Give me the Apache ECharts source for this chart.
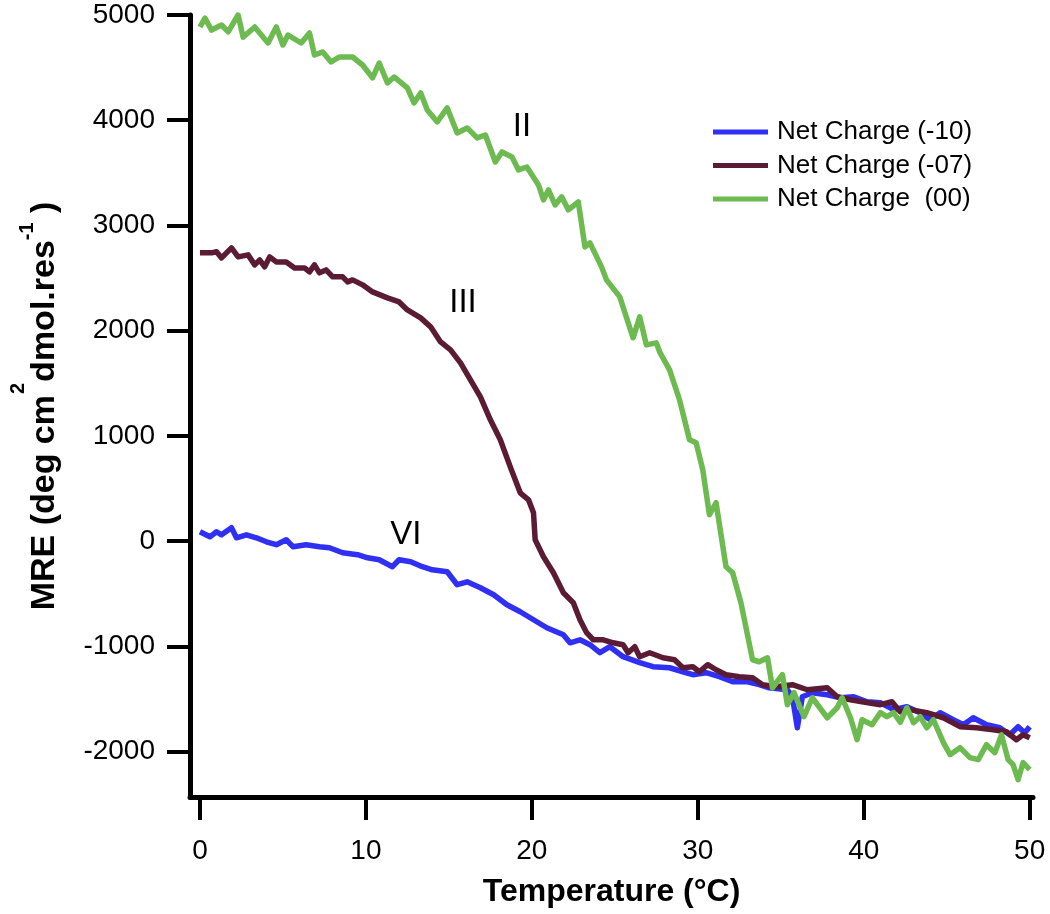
<!DOCTYPE html>
<html>
<head>
<meta charset="utf-8">
<script src="https://cdn.jsdelivr.net/npm/echarts@6/dist/echarts.min.js"></script>
<style>
html,body{margin:0;padding:0;background:#fff;}
#chart{width:1050px;height:914px;}
</style>
</head>
<body>
<div id="chart"></div>
<script>
// ---- Data ----
const seriesNames = ['Net Charge (-10)', 'Net Charge (-07)', 'Net Charge  (00)'];

const xTicks = [0, 10, 20, 30, 40, 50];
const yTicks = [-2000, -1000, 0, 1000, 2000, 3000, 4000, 5000];

// Net Charge (-10) — blue
const blueT = [0, 0.6, 1.0, 1.3, 1.9, 2.2, 2.8, 3.4, 4.0, 4.6,
  5.2, 5.6, 6.4, 7.2, 7.8, 8.6, 9.5, 10.1, 10.8, 11.6,
  12.0, 12.7, 13.4, 14.0, 14.9, 15.5, 16.1, 16.9, 17.7, 18.5,
  19.3, 20.1, 20.9, 21.9, 22.3, 22.9, 23.5, 24.1, 24.7, 25.5,
  26.5, 27.3, 28.3, 29.1, 29.7, 30.5, 31.3, 32.1, 33.0, 33.7,
  34.3, 35.4, 35.7, 36.0, 36.3, 36.9, 37.8, 38.6, 39.4, 40.2,
  41.0, 41.8, 42.6, 43.4, 44.0, 44.6, 45.4, 46.0, 46.6, 47.4,
  48.2, 48.8, 49.3, 49.7, 50.0];
const blueV = [90, 42, 90, 61, 128, 33, 61, 33, -5, -33,
  14, -52, -33, -52, -62, -109, -128, -157, -176, -242,
  -176, -195, -242, -271, -290, -413, -385, -442, -508, -603,
  -670, -746, -822, -888, -965, -936, -983, -1059, -1002, -1097,
  -1154, -1192, -1202, -1240, -1268, -1249, -1287, -1335, -1335, -1363,
  -1392, -1411, -1477, -1772, -1477, -1439, -1458, -1487, -1477, -1525,
  -1534, -1600, -1572, -1629, -1696, -1629, -1696, -1743, -1677, -1743,
  -1772, -1838, -1762, -1819, -1762];

// Net Charge (-07) — maroon
const maroonT = [0, 0.7, 1.0, 1.3, 1.9, 2.3, 2.9, 3.3, 3.6, 3.9,
  4.2, 4.6, 5.2, 5.7, 6.3, 6.6, 6.9, 7.2, 7.6, 8.0,
  8.6, 8.9, 9.2, 9.8, 10.4, 11.3, 12.0, 12.5, 13.3, 13.9,
  14.5, 15.1, 15.7, 16.3, 16.9, 17.5, 18.1, 18.7, 19.3, 19.8,
  20.1, 20.2, 20.7, 21.3, 21.9, 22.5, 22.9, 23.3, 23.7, 24.3,
  24.9, 25.5, 25.8, 26.2, 26.5, 27.1, 27.9, 28.6, 29.1, 29.7,
  30.1, 30.6, 31.1, 31.7, 32.5, 33.3, 33.9, 34.7, 35.7, 36.6,
  37.8, 38.4, 39.2, 39.9, 41.0, 41.7, 42.2, 42.8, 43.8, 44.8,
  45.8, 46.8, 47.8, 48.6, 49.2, 49.6, 50.0];
const maroonV = [2740, 2740, 2750, 2692, 2787, 2702, 2721, 2626, 2673, 2607,
  2702, 2654, 2654, 2597, 2597, 2559, 2626, 2550, 2578, 2512,
  2512, 2464, 2483, 2436, 2369, 2312, 2274, 2198, 2122, 2037,
  1894, 1818, 1695, 1534, 1372, 1154, 964, 707, 460, 394,
  270, 14, -147, -299, -489, -584, -746, -869, -936, -936,
  -965, -983, -1059, -1002, -1097, -1059, -1107, -1126, -1202, -1192,
  -1240, -1173, -1221, -1268, -1287, -1297, -1363, -1382, -1363, -1411,
  -1392, -1477, -1506, -1525, -1553, -1525, -1620, -1600, -1629, -1677,
  -1762, -1772, -1791, -1810, -1886, -1838, -1867];

// Net Charge (00) — green
const greenT = [0.0, 0.3, 0.7, 1.3, 1.7, 2.3, 2.6, 3.3, 4.1, 4.6,
  5.0, 5.3, 6.1, 6.6, 6.9, 7.4, 7.9, 8.4, 9.2, 9.8,
  10.4, 10.8, 11.3, 11.7, 12.5, 12.9, 13.3, 13.7, 14.3, 14.9,
  15.5, 16.1, 16.7, 17.2, 17.8, 18.2, 18.8, 19.2, 19.7, 20.4,
  20.7, 21.0, 21.4, 21.8, 22.2, 22.8, 23.2, 23.5, 24.2, 24.5,
  25.3, 26.1, 26.5, 26.9, 27.5, 27.7, 28.3, 28.9, 29.5, 29.9,
  30.3, 30.7, 31.1, 31.7, 32.1, 32.6, 33.3, 33.7, 34.2, 34.5,
  35.1, 35.4, 35.8, 36.4, 36.9, 37.8, 38.4, 38.7, 39.2, 39.6,
  39.9, 40.5, 41.0, 41.4, 41.8, 42.2, 42.6, 43.0, 43.4, 43.8,
  44.2, 44.8, 45.2, 45.8, 46.4, 46.9, 47.4, 47.9, 48.3, 48.7,
  49.0, 49.3, 49.6, 50.0];
const greenV = [4886, 4970, 4857, 4905, 4840, 5000, 4790, 4886, 4734, 4886,
  4715, 4810, 4734, 4829, 4620, 4649, 4554, 4601, 4601, 4525,
  4402, 4544, 4354, 4411, 4307, 4164, 4259, 4098, 3984, 4117,
  3879, 3927, 3832, 3860, 3604, 3699, 3651, 3528, 3556, 3385,
  3243, 3338, 3196, 3272, 3148, 3224, 2797, 2835, 2607, 2483,
  2322, 1933, 2132, 1866, 1885, 1800, 1629, 1344, 964, 935,
  679, 252, 366, -242, -299, -584, -1126, -1145, -1107, -1392,
  -1268, -1553, -1439, -1667, -1487, -1677, -1582, -1487, -1677, -1885,
  -1696, -1743, -1629, -1667, -1629, -1720, -1582, -1724, -1667, -1772,
  -1696, -1914, -2028, -1961, -2056, -2075, -1933, -2009, -1840, -2075,
  -2123, -2265, -2104, -2170];

// Curve annotations (data coordinates)
const annotText = ['II', 'III', 'VI'];
const annotT = [19.4, 15.85, 12.4];
const annotV = [3940, 2265, 60];

// ---- Chart ----
const FONT = "'Liberation Sans', Arial, Helvetica, sans-serif";
const colors = ['#3030f2', '#5c1b35', '#6dbb50'];
const pair = (xs, ys) => xs.map((x, i) => [x, ys[i]]);

const chart = echarts.init(document.getElementById('chart'), null, {renderer: 'canvas'});

const lineSeries = [[blueT, blueV], [maroonT, maroonV], [greenT, greenV]].map((d, i) => ({
  name: seriesNames[i],
  type: 'line',
  data: pair(d[0], d[1]),
  showSymbol: false,
  symbol: 'none',
  lineStyle: {width: 5.5, color: colors[i], join: 'round'},
  itemStyle: {color: colors[i]},
  z: 2 + i
}));

chart.setOption({
  animation: false,
  backgroundColor: '#ffffff',
  textStyle: {fontFamily: FONT},
  grid: {left: 190, right: 17, top: 15, bottom: 117, outerBoundsMode: 'none', containLabel: false},
  legend: {
    data: seriesNames,
    orient: 'vertical',
    left: 708,
    top: 112,
    icon: 'rect',
    itemWidth: 55,
    itemHeight: 5,
    itemGap: 3.5,
    textStyle: {fontFamily: FONT, fontSize: 26, color: '#000', lineHeight: 30, padding: [0, 0, 0, 4]}
  },
  xAxis: {
    type: 'value',
    min: -0.6,
    max: 50.2,
    name: 'Temperature (°C)',
    nameLocation: 'middle',
    nameGap: 79,
    nameTextStyle: {fontFamily: FONT, fontSize: 32, fontWeight: 'bold', color: '#000'},
    axisLine: {show: true, onZero: false, lineStyle: {color: '#000', width: 5}},
    axisTick: {show: true, inside: false, length: 23, customValues: xTicks, lineStyle: {color: '#000', width: 4}},
    axisLabel: {show: true, customValues: xTicks, margin: 40, fontFamily: FONT, fontSize: 28, color: '#000',
      formatter: v => String(v)},
    splitLine: {show: false}
  },
  yAxis: {
    type: 'value',
    min: -2430,
    max: 5000,
    name: '{m|MRE (deg cm}{a|2}{m|dmol.res}{b|-1}{m| )}',
    nameLocation: 'middle',
    nameRotate: 90,
    nameGap: 128,
    nameTextStyle: {
      fontFamily: FONT, color: '#000',
      rich: {
        m: {fontFamily: FONT, fontSize: 34, fontWeight: 'bold', color: '#000', lineHeight: 34, verticalAlign: 'bottom'},
        a: {fontFamily: FONT, fontSize: 20, fontWeight: 'bold', color: '#000', lineHeight: 54, verticalAlign: 'top', padding: [0, 1, 0, 1]},
        b: {fontFamily: FONT, fontSize: 20, fontWeight: 'bold', color: '#000', lineHeight: 20, verticalAlign: 'top', padding: [9, 0, 0, 0]}
      }
    },
    axisLine: {show: true, onZero: false, lineStyle: {color: '#000', width: 5}},
    axisTick: {show: true, inside: false, length: 23, customValues: yTicks, lineStyle: {color: '#000', width: 4}},
    axisLabel: {show: true, customValues: yTicks, margin: 35, fontFamily: FONT, fontSize: 28, color: '#000',
      formatter: v => String(v)},
    splitLine: {show: false}
  },
  series: lineSeries.concat([{
    name: 'annotations',
    type: 'scatter',
    data: annotT.map((t, i) => ({value: [t, annotV[i]], label: {formatter: annotText[i]}})),
    symbolSize: 0,
    silent: true,
    z: 10,
    itemStyle: {color: '#000'},
    label: {show: true, position: 'inside', fontFamily: FONT, fontSize: 33, color: '#000',
      textBorderWidth: 0, opacity: 1}
  }])
});
</script>
</body>
</html>
